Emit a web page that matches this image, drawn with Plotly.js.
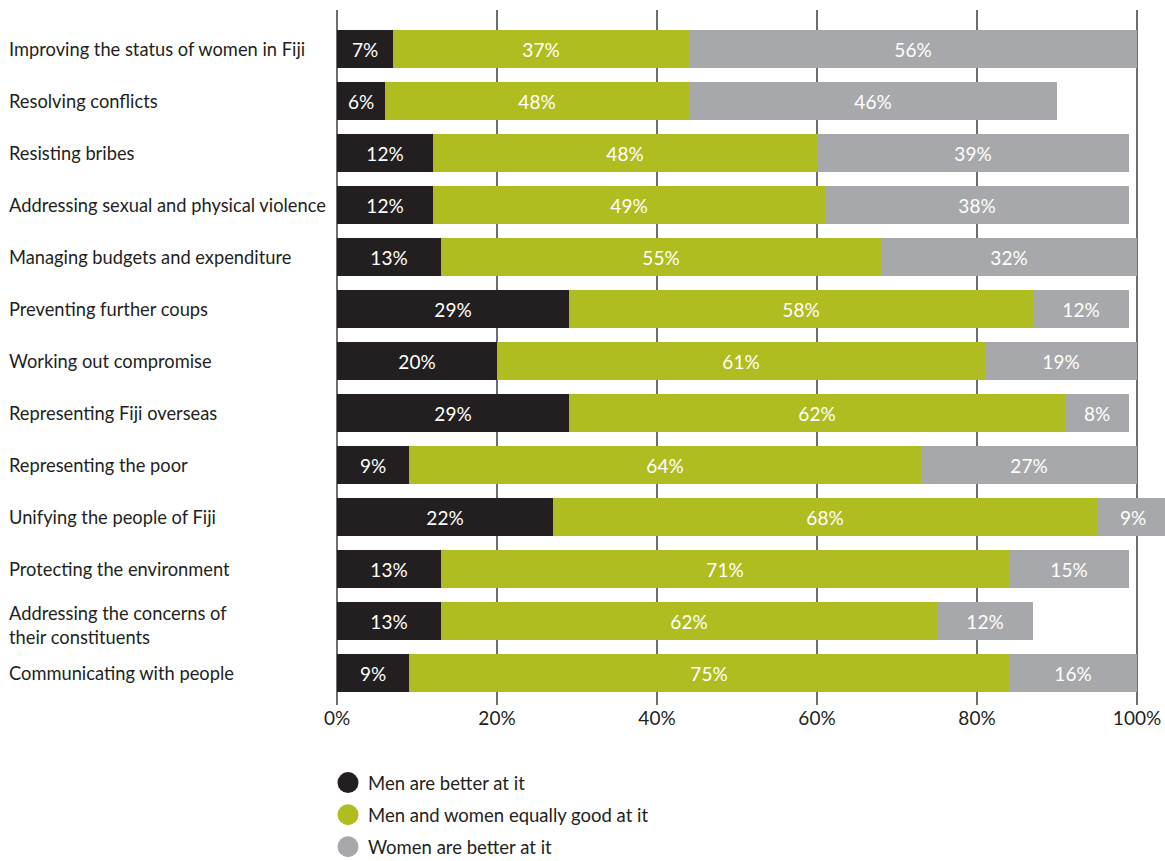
<!DOCTYPE html>
<html>
<head>
<meta charset="utf-8">
<script src="https://cdn.plot.ly/plotly-3.0.1.min.js"></script>
<style>html,body{margin:0;padding:0;background:#fff;overflow:hidden;}</style>
</head>
<body>
<div id="chart" style="width:1165px;height:861px;"></div>
<script>
var categories = [
  "Improving the status of women in Fiji",
  "Resolving conflicts",
  "Resisting bribes",
  "Addressing sexual and physical violence",
  "Managing budgets and expenditure",
  "Preventing further coups",
  "Working out compromise",
  "Representing Fiji overseas",
  "Representing the poor",
  "Unifying the people of Fiji",
  "Protecting the environment",
  "Addressing the concerns of<br>their constituents",
  "Communicating with people"
];
// bar lengths as drawn (percent)
var menValues   = [7, 6, 12, 12, 13, 29, 20, 29, 9, 27, 13, 13, 9];
var equalValues = [37, 38, 48, 49, 55, 58, 61, 62, 64, 68, 71, 62, 75];
var womenValues = [56, 46, 39, 38, 32, 12, 19, 8, 27, 9, 15, 12, 16];
// printed labels
var menLabels   = [7, 6, 12, 12, 13, 29, 20, 29, 9, 22, 13, 13, 9];
var equalLabels = [37, 48, 48, 49, 55, 58, 61, 62, 64, 68, 71, 62, 75];
var womenLabels = [56, 46, 39, 38, 32, 12, 19, 8, 27, 9, 15, 12, 16];
var seriesNames = ["Men are better at it", "Men and women equally good at it", "Women are better at it"];
var xTicks = [0, 20, 40, 60, 80, 100];

var colors = ["#231f20", "#afbd21", "#a7a8ab"];
var FONT = "Lato, 'Open Sans', sans-serif";
var TXT = "#231f20";

function pct(a){ return a.map(function(v){ return v + "%"; }); }

var vals = [menValues, equalValues, womenValues];
var lbls = [menLabels, equalLabels, womenLabels];
var traces = [];
for (var i = 0; i < 3; i++) {
  traces.push({
    type: "bar", orientation: "h",
    y: categories, x: vals[i],
    text: pct(lbls[i]), textposition: "inside", insidetextanchor: "middle",
    textfont: {family: FONT, size: 19, color: "#ffffff"},
    marker: {color: colors[i]},
    showlegend: false, hoverinfo: "skip", cliponaxis: true
  });
}
for (var j = 0; j < 3; j++) {
  traces.push({
    type: "scatter", mode: "markers", x: [null], y: [categories[0]],
    name: seriesNames[j], legendgroup: "g" + j,
    marker: {color: colors[j], size: 16, symbol: "circle", line: {color: colors[j], width: 5}},
    showlegend: true, hoverinfo: "skip"
  });
}

var plotL = 337, plotW = 828;
var annotations = categories.map(function(c){
  return {
    xref: "paper", yref: "y", x: (7 - plotL) / plotW, y: c,
    yshift: c.indexOf("<br>") >= 0 ? -4 : 0,
    text: c, showarrow: false, xanchor: "left", align: "left",
    font: {family: FONT, size: 18.3, color: TXT}
  };
});

var layout = {
  width: 1165, height: 861,
  margin: {l: plotL, r: 0, t: 10, b: 156, autoexpand: false},
  paper_bgcolor: "#ffffff", plot_bgcolor: "#ffffff",
  barmode: "stack", bargap: 0.27,
  font: {family: FONT, size: 19, color: TXT},
  xaxis: {
    range: [0, 103.5], tickvals: xTicks, ticktext: pct(xTicks),
    showgrid: true, gridcolor: "#6d6e71", gridwidth: 1.3,
    zeroline: true, zerolinecolor: "#6d6e71", zerolinewidth: 1.3,
    showline: false, ticks: "", fixedrange: true, automargin: false,
    tickfont: {family: FONT, size: 19, color: TXT}
  },
  yaxis: {
    type: "category", range: [12.615, -0.75], automargin: false,
    showticklabels: false, showgrid: false, zeroline: false, ticks: "", fixedrange: true
  },
  showlegend: true,
  legend: {
    orientation: "v", xref: "paper", yref: "paper",
    x: (328 - plotL) / plotW, xanchor: "left",
    y: -0.085, yanchor: "top",
    font: {family: FONT, size: 18.5, color: TXT},
    tracegroupgap: 5, bgcolor: "rgba(0,0,0,0)"
  },
  annotations: annotations
};

Plotly.newPlot("chart", traces, layout, {displayModeBar: false, staticPlot: true});
</script>
</body>
</html>
